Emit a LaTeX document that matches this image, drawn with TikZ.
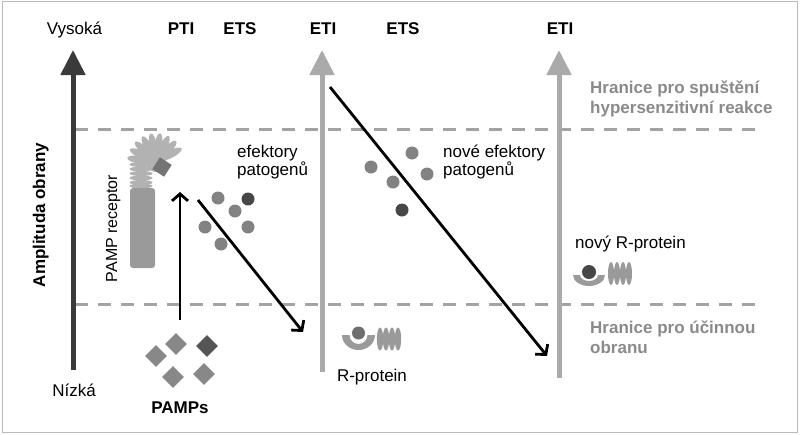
\documentclass[tikz,border=0pt]{standalone}
\usepackage{fontspec}
\setmainfont{Liberation Sans}
\usetikzlibrary{arrows.meta,shapes.geometric}
\definecolor{axdark}{HTML}{3A3A3A}
\definecolor{axgray}{HTML}{AAAAAA}
\definecolor{dashgray}{HTML}{A3A3A3}
\definecolor{txtgray}{HTML}{8A8A8A}
\definecolor{dotgray}{HTML}{828282}
\definecolor{dotdark}{HTML}{474747}
\definecolor{recgray}{HTML}{9A9A9A}
\definecolor{coilgray}{HTML}{B2B2B2}
\definecolor{diagray}{HTML}{888888}
\definecolor{diadark}{HTML}{555555}
\definecolor{bordergray}{HTML}{BBBBBB}
\begin{document}
\begin{tikzpicture}[x=1pt,y=-1pt,
  lbl/.style={font=\fontsize{17}{20}\selectfont, inner sep=0pt, anchor=base},
  lblb/.style={lbl, font=\fontsize{17}{20}\selectfont\bfseries},
  lblg/.style={lblb, text=txtgray, anchor=base west},
  axisdark/.style={draw=axdark, line width=5pt, -{Triangle[width=24pt,length=25pt]}},
  axisgray/.style={draw=axgray, line width=5pt, -{Triangle[width=24pt,length=25pt]}},
  limit/.style={draw=dashgray, line width=3pt, dash pattern=on 13pt off 10pt},
  blackarrow/.style={draw=black, line width=2.8pt, -{Straight Barb[length=7pt,width=16pt]}},
  dot/.style={circle, fill=dotgray, minimum size=13pt, inner sep=0pt},
  dotd/.style={dot, fill=dotdark},
  pamp/.style={diamond, fill=diagray, minimum width=22pt, minimum height=22pt, inner sep=0pt},
  pampd/.style={pamp, fill=diadark},
  coil/.style={fill=coilgray},
  rcoil/.style={fill=recgray}
]
\useasboundingbox (0,0) rectangle (800,434);
\draw[bordergray, line width=1.2pt] (2.5,1.5) rectangle (797.5,432.5);

% threshold lines
\coordinate (u1) at (75,129); \coordinate (u2) at (765,129);
\coordinate (l1) at (75,304); \coordinate (l2) at (765,304);
\draw[limit] (u1) -- (u2);
\draw[limit] (l1) -- (l2);

% axes
\coordinate (a0b) at (73,370); \coordinate (a0t) at (73,50);
\coordinate (a1b) at (322,372); \coordinate (a1t) at (322,50);
\coordinate (a2b) at (559,378); \coordinate (a2t) at (559,50);
\draw[axisdark] (a0b) -- (a0t);
\draw[axisgray] (a1b) -- (a1t);
\draw[axisgray] (a2b) -- (a2t);

% top and side labels
\node[lbl] (vys) at (74.5,34) {Vysoká};
\node[lbl] (niz) at (74,396) {Nízká};
\node[lblb] (pti) at (181,34) {PTI};
\node[lblb] (ets1) at (240,34) {ETS};
\node[lblb] (eti1) at (323,34) {ETI};
\node[lblb] (ets2) at (403,34) {ETS};
\node[lblb] (eti2) at (560,34) {ETI};
\node[lblb, rotate=90] (amp) at (45,215) {Amplituda obrany};

% threshold labels
\node[lblg] (h1a) at (590,93) {Hranice pro spuštění};
\node[lblg] (h1b) at (590,113) {hypersenzitivní reakce};
\node[lblg] (h2a) at (590,333) {Hranice pro účinnou};
\node[lblg] (h2b) at (590,353) {obranu};

% PAMP receptor
\foreach \a in {28,46,64,82,100,118,136,154,172}
  \fill[coil, shift={(156,162)}, rotate=\a] (17pt,0) ellipse [x radius=12pt, y radius=3.8pt];
\fill[coil] (156,162) circle[radius=10pt];
\foreach \yy in {160,164.5,169,173.5,178,182.5,186}
  \fill[coil] (141,\yy) ellipse [x radius=11.5pt, y radius=2.5pt];
\node[draw=none, fill=recgray, rounded corners=3pt, minimum width=25pt, minimum height=80pt, inner sep=0pt] (rec) at (142.5,228) {};
\node[diamond, fill=diagray!85!black, minimum width=20pt, minimum height=20pt, inner sep=0pt, rotate=12] (pbound) at (162,167) {};
\node[lbl, font=\fontsize{16}{19}\selectfont, rotate=90] (pampr) at (117,228.5) {PAMP receptor};

% PAMPs
\node[pamp] (p1) at (156,356) {};
\node[pamp] (p2) at (176,344) {};
\node[pampd] (p3) at (207,346) {};
\node[pamp] (p4) at (173,377) {};
\node[pamp] (p5) at (204,374) {};
\node[lblb] (pamps) at (180,413) {PAMPs};

% effectors
\node[dot] (e1) at (218,198) {};
\node[dotd] (e2) at (248,199) {};
\node[dot] (e3) at (235,211) {};
\node[dot] (e4) at (205,227) {};
\node[dot] (e5) at (248,227) {};
\node[dot] (e6) at (221,244) {};
\node[lbl, anchor=base west] (ef1) at (237,157) {efektory};
\node[lbl, anchor=base west] (ef2) at (237,175) {patogenů};

% new effectors
\node[dot] (n1) at (412,153) {};
\node[dot] (n2) at (371,167) {};
\node[dot] (n3) at (427,174) {};
\node[dot] (n4) at (393,182) {};
\node[dotd] (n5) at (402,210) {};
\node[lbl, anchor=base west] (nf1) at (443,157) {nové efektory};
\node[lbl, anchor=base west] (nf2) at (443,175) {patogenů};

% R-protein
\fill[recgray] (342,335) arc[start angle=180, end angle=360, x radius=16.5pt, y radius=15pt]
  -- (367.5,335) arc[start angle=0, end angle=-180, radius=9pt] -- cycle;
\node[circle, fill=dotgray!85!black, minimum size=13pt, inner sep=0pt] (rb) at (358.5,333) {};
\foreach \xx in {380,386,392,398}
  \fill[rcoil] (\xx,339) ellipse [x radius=3.2pt, y radius=11.5pt];
\node[lbl] (rp) at (372,381.5) {R-protein};

% new R-protein
\fill[recgray] (573,275) arc[start angle=180, end angle=360, x radius=16pt, y radius=11pt]
  -- (598,275) arc[start angle=0, end angle=-180, x radius=9pt, y radius=6pt] -- cycle;
\node[circle, fill=dotdark, minimum size=14pt, inner sep=0pt] (nrb) at (589,272) {};
\foreach \xx in {611,617,623,629}
  \fill[rcoil] (\xx,273.5) ellipse [x radius=3pt, y radius=11.5pt];
\node[lbl, anchor=base west] (nrp) at (575,248) {nový R-protein};

% black arrows
\coordinate (b1s) at (180,320); \coordinate (b1e) at (180,192);
\coordinate (b2s) at (198,200); \coordinate (b2e) at (303,332);
\coordinate (b3s) at (330,87);  \coordinate (b3e) at (547,356);
\draw[blackarrow] (b1s) -- (b1e);
\draw[blackarrow] (b2s) -- (b2e);
\draw[blackarrow] (b3s) -- (b3e);
\end{tikzpicture}
\end{document}
